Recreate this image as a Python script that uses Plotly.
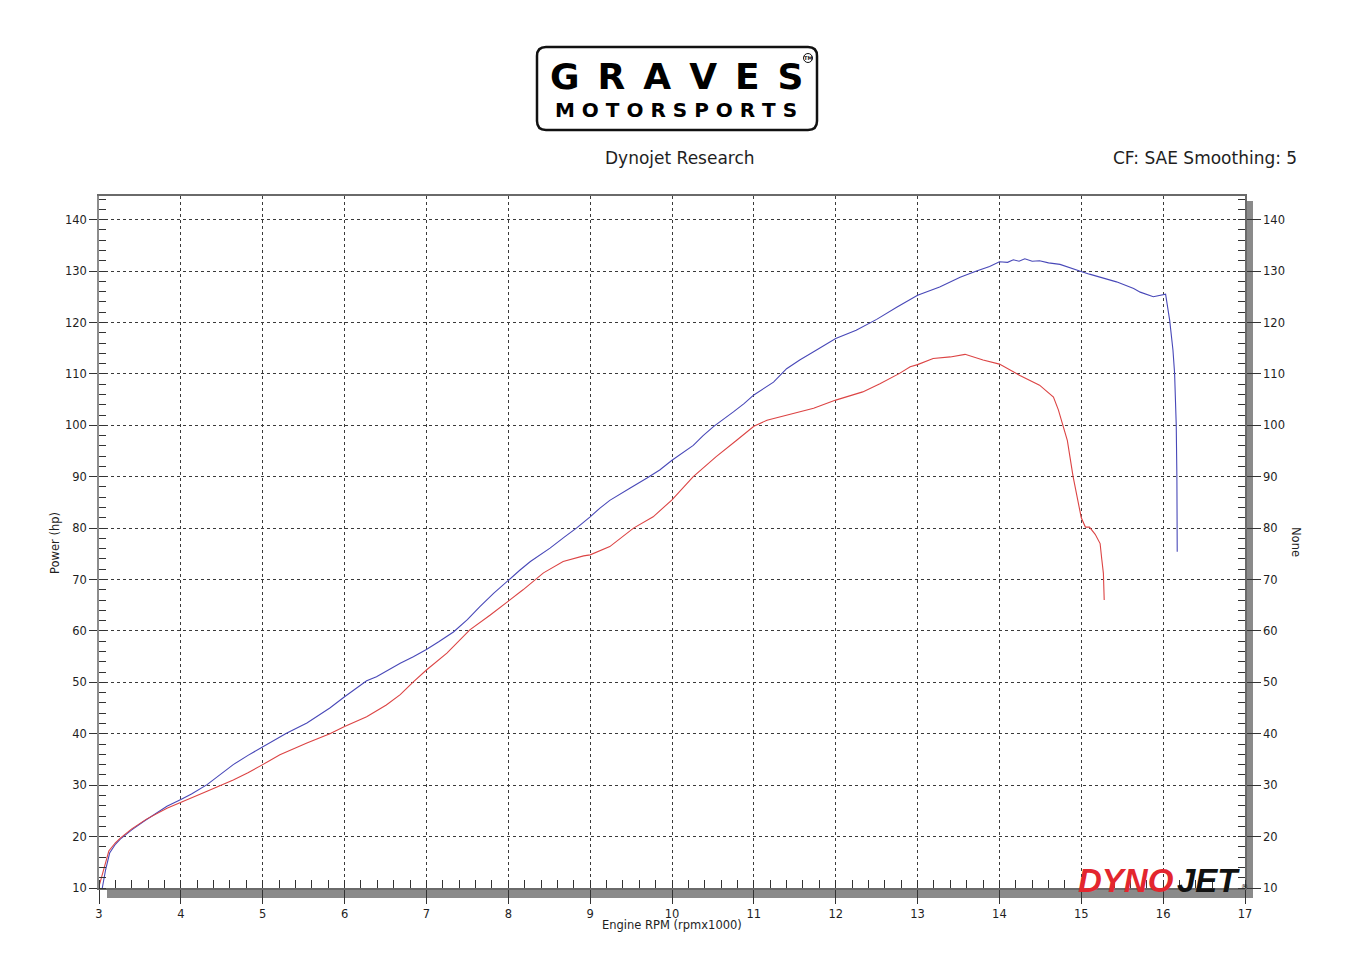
import plotly.graph_objects as go

# ---------------- data ----------------
blue_rpm = [3.04, 3.08, 3.13, 3.20, 3.26, 3.40, 3.54, 3.70, 3.83, 4.00, 4.13, 4.32, 4.48, 4.64, 4.82,
            5.00, 5.15, 5.29, 5.54, 5.82, 6.00, 6.15, 6.27, 6.39, 6.52, 6.68, 6.84, 7.00, 7.15, 7.33,
            7.50, 7.65, 7.82, 8.00, 8.14, 8.27, 8.51, 8.68, 8.84, 9.00, 9.12, 9.24, 9.36, 9.49, 9.69,
            9.85, 10.00, 10.13, 10.26, 10.38, 10.51, 10.75, 10.88, 11.00, 11.12, 11.24, 11.40, 11.56,
            11.73, 11.86, 12.00, 12.25, 12.50, 12.75, 13.00, 13.27, 13.52, 13.72, 13.88, 14.00, 14.10,
            14.17, 14.24, 14.31, 14.40, 14.49, 14.60, 14.74, 14.86, 14.98, 15.10, 15.23, 15.43, 15.64,
            15.72, 15.88, 15.95, 16.00, 16.03, 16.08, 16.12, 16.14, 16.16, 16.168, 16.172]
blue_hp = [10.0, 13.5, 16.8, 18.5, 19.5, 21.3, 22.9, 24.5, 25.9, 27.2, 28.3, 30.1, 32.0, 34.0, 35.8,
           37.5, 38.9, 40.1, 42.1, 45.0, 47.2, 48.9, 50.3, 51.1, 52.3, 53.7, 55.0, 56.4, 57.9, 59.8,
           62.2, 64.7, 67.3, 69.9, 71.8, 73.5, 76.1, 78.2, 80.1, 82.2, 83.9, 85.4, 86.6, 87.8, 89.7,
           91.3, 93.2, 94.6, 96.1, 98.0, 99.8, 102.6, 104.2, 105.9, 107.2, 108.4, 111.0, 112.7,
           114.3, 115.6, 116.9, 118.5, 120.6, 123.0, 125.3, 126.9, 128.8, 130.0, 130.9, 131.8, 131.7,
           132.2, 131.9, 132.4, 131.9, 132.0, 131.6, 131.3, 130.6, 130.0, 129.4, 128.8, 127.9, 126.6,
           125.9, 125.0, 125.2, 125.3, 125.5, 120.4, 114.6, 110.1, 100.0, 90.0, 75.4]

red_rpm = [3.00, 3.06, 3.12, 3.20, 3.26, 3.40, 3.58, 3.83, 4.00, 4.32, 4.64, 4.82, 5.00, 5.21, 5.54,
           5.82, 6.00, 6.27, 6.51, 6.68, 6.84, 7.00, 7.25, 7.53, 7.78, 8.00, 8.18, 8.43, 8.67, 8.92,
           9.00, 9.24, 9.53, 9.77, 10.00, 10.26, 10.54, 10.79, 11.00, 11.16, 11.40, 11.73, 12.00,
           12.33, 12.54, 12.78, 12.91, 13.00, 13.19, 13.40, 13.58, 13.80, 14.00, 14.25, 14.49, 14.66,
           14.72, 14.78, 14.83, 14.90, 14.96, 15.00, 15.05, 15.10, 15.17, 15.23, 15.25, 15.27, 15.28]
red_hp = [10.3, 14.0, 17.2, 18.8, 19.7, 21.5, 23.4, 25.5, 26.6, 28.8, 31.0, 32.4, 34.0, 35.9, 38.2,
          40.0, 41.4, 43.3, 45.6, 47.6, 50.1, 52.4, 55.7, 60.2, 63.1, 65.7, 68.0, 71.3, 73.5, 74.6,
          74.8, 76.4, 80.0, 82.2, 85.5, 90.0, 93.9, 97.1, 99.8, 101.0, 102.0, 103.3, 104.9,
          106.5, 108.1, 110.1, 111.4, 111.8, 113.0, 113.3, 113.8, 112.7, 111.9, 109.7, 107.8, 105.5,
          103.0, 99.7, 97.0, 90.0, 85.0, 82.0, 80.2, 80.2, 78.8, 77.0, 74.0, 71.2, 66.0]

x_range = [3, 17]
y_range = [10, 144.6]

title_text = "Dynojet Research"
cf_text = "CF: SAE Smoothing: 5"
x_title = "Engine RPM (rpmx1000)"
y_title = "Power (hp)"
y2_title = "None"
logo_top = "\u2002".join("GRAVES")
logo_bottom = " ".join("MOTORSPORTS")

# ---------------- geometry (page pixels -> paper) ----------------
OFF = 8  # page body margin
W, H = 1348, 976
PL, PR, PT, PB = 99, 1245, 196, 888  # plot area on the page
ML = PL - OFF
MT = PT - OFF
MR = W - (PR - OFF)
MB = H - (PB - OFF)
PW = PR - PL
PH = PB - PT


def px(X):
    return (X - PL) / PW


def py(Y):
    return (PB - Y) / PH


FONT = "DejaVu Sans"
TXT = "#1e1e1e"

fig = go.Figure()
fig.add_trace(go.Scatter(x=blue_rpm, y=blue_hp, mode="lines",
                         line=dict(color="#4848b8", width=1.1), showlegend=False, hoverinfo="skip"))
fig.add_trace(go.Scatter(x=red_rpm, y=red_hp, mode="lines",
                         line=dict(color="#dc4444", width=1.1), showlegend=False, hoverinfo="skip"))
fig.add_trace(go.Scatter(x=[None], y=[None], yaxis="y2", mode="lines", showlegend=False, hoverinfo="skip"))

grid = dict(showgrid=True, gridcolor="#3a3a3a", gridwidth=1, griddash="3px,3px")

fig.update_layout(
    width=W, height=H, autosize=False,
    margin=dict(l=ML, r=MR, t=MT, b=MB),
    paper_bgcolor="white", plot_bgcolor="white",
    xaxis=dict(range=x_range, tick0=3, dtick=1, **grid, zeroline=False,
               showline=True, linecolor="#6a6a6a", linewidth=1.5, mirror=True,
               ticks="outside", ticklen=14, tickcolor="#333", tickwidth=1,
               tickfont=dict(family=FONT, size=11.5, color=TXT),
               minor=dict(ticks="inside", ticklen=8, dtick=0.2, tickcolor="#333", showgrid=False)),
    yaxis=dict(range=y_range, tick0=0, dtick=10, **grid, zeroline=False,
               showline=True, linecolor="#8c8c8c", linewidth=1.5,
               ticks="outside", ticklen=8, tickcolor="#333", tickwidth=1,
               tickfont=dict(family=FONT, size=11.5, color=TXT),
               minor=dict(ticks="inside", ticklen=7, dtick=2, tickcolor="#333", showgrid=False)),
    yaxis2=dict(range=y_range, tick0=0, dtick=10, overlaying="y", side="right", showgrid=False,
                zeroline=False, showline=True, linecolor="#6a6a6a", linewidth=1.5,
                ticks="outside", ticklen=14, tickcolor="#333", tickwidth=1,
                tickfont=dict(family=FONT, size=11.5, color=TXT),
                minor=dict(ticks="inside", ticklen=7, dtick=2, tickcolor="#333", showgrid=False)),
)

shapes = []
# frame shadow (right and bottom)
shapes.append(dict(type="rect", xref="paper", yref="paper", layer="below",
                   x0=px(1246), x1=px(1253), y0=py(898), y1=py(201),
                   fillcolor="#8a8a8a", line=dict(width=0)))
shapes.append(dict(type="rect", xref="paper", yref="paper", layer="below",
                   x0=px(107), x1=px(1253), y0=py(898), y1=py(890),
                   fillcolor="#8a8a8a", line=dict(width=0)))

# logo box with rounded corners
x0, x1, y0, y1, r = 537, 817, 47, 130, 9
path = (f"M {px(x0 + r)},{py(y0)} L {px(x1 - r)},{py(y0)} Q {px(x1)},{py(y0)} {px(x1)},{py(y0 + r)} "
        f"L {px(x1)},{py(y1 - r)} Q {px(x1)},{py(y1)} {px(x1 - r)},{py(y1)} "
        f"L {px(x0 + r)},{py(y1)} Q {px(x0)},{py(y1)} {px(x0)},{py(y1 - r)} "
        f"L {px(x0)},{py(y0 + r)} Q {px(x0)},{py(y0)} {px(x0 + r)},{py(y0)} Z")
shapes.append(dict(type="path", xref="paper", yref="paper", path=path,
                   line=dict(color="#111", width=2.5), fillcolor="white"))
# TM circle
shapes.append(dict(type="circle", xref="paper", yref="paper",
                   x0=px(803.5), x1=px(812.5), y0=py(62.5), y1=py(53.5),
                   line=dict(color="#111", width=1)))

annotations = []


def ann(text, X, Y, size, xanchor="center", yanchor="middle", angle=0, color=TXT,
        family=FONT, weight="normal", style="normal"):
    annotations.append(dict(text=text, x=px(X), y=py(Y), xref="paper", yref="paper",
                            showarrow=False, xanchor=xanchor, yanchor=yanchor, textangle=angle,
                            borderpad=0,
                            font=dict(family=family, size=size, color=color, weight=weight, style=style)))


ann(title_text, 680, 158, 17)
ann(cf_text, 1298, 158, 17, xanchor="right")
ann(x_title, 672, 925, 11.5)
ann(y_title, 55, 543, 11.5, angle=-90)
ann(y2_title, 1296, 542, 11.5, angle=90)

# GRAVES MOTORSPORTS logo text
ann(logo_top, 677, 76.5, 36, color="#000", weight="bold")
ann(logo_bottom, 676, 110, 20, color="#000", weight="bold")
ann("TM", 808, 58, 5, color="#111", weight="bold")

# DYNOJET logo
ann("DYNO", 1126, 880, 33, xanchor="center", color="#e3262e", family="Liberation Sans",
    weight="bold", style="italic")
ann("JET", 1208, 880, 33, xanchor="center", color="#111", family="Liberation Sans",
    weight="bold", style="italic")
ann("®", 1244, 887, 7, color="#222")

fig.update_layout(shapes=shapes, annotations=annotations)
fig.write_html("out.html")
